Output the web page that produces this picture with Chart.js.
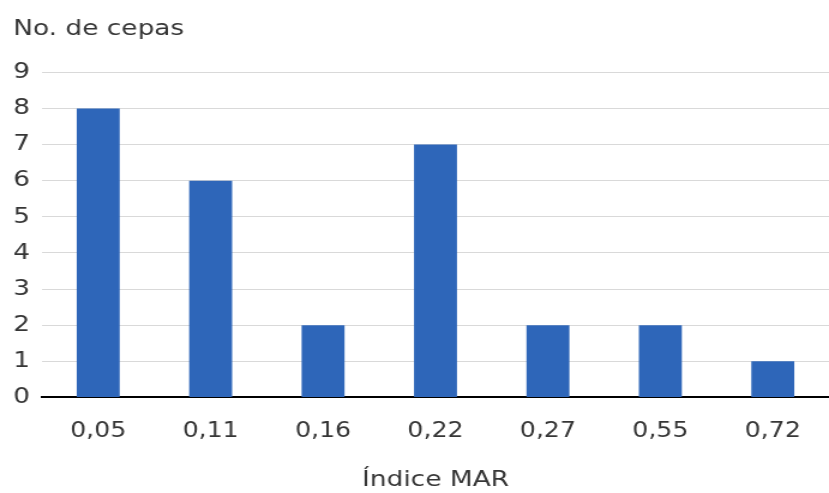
<!DOCTYPE html>
<html>
<head>
<meta charset="utf-8">
<script src="https://cdn.jsdelivr.net/npm/chart.js@4/dist/chart.umd.min.js"></script>
<style>
html,body{margin:0;padding:0;background:#fff;overflow:hidden;}
#wrap{width:691px;height:493px;position:relative;transform:scaleX(1.19971);transform-origin:0 0;}
</style>
</head>
<body>
<div id="wrap"><canvas id="c"></canvas></div>
<script>
const categories = ["0,05", "0,11", "0,16", "0,22", "0,27", "0,55", "0,72"];
const cepas = [8, 6, 2, 7, 2, 2, 1];
const yTitle = "No. de cepas";
const xTitle = "Índice MAR";

const FONT = "'DejaVu Sans', Verdana, sans-serif";
const TXT = '#363636';
new Chart(document.getElementById('c'), {
  type: 'bar',
  data: {
    labels: categories,
    datasets: [{
      data: cepas,
      backgroundColor: '#2e66b9',
      categoryPercentage: 1,
      barPercentage: 0.382
    }]
  },
  options: {
    responsive: true,
    maintainAspectRatio: false,
    animation: false,
    devicePixelRatio: 1,
    layout: { padding: { left: 11, right: 0, top: 0, bottom: 0 } },
    plugins: {
      legend: { display: false },
      tooltip: { enabled: false },
      title: {
        display: true,
        text: yTitle,
        align: 'start',
        color: TXT,
        font: { family: FONT, size: 22, weight: 'normal' },
        padding: { top: 16, bottom: 30 }
      }
    },
    scales: {
      x: {
        grid: { display: false, drawTicks: false },
        border: { color: '#000', width: 2 },
        ticks: { color: TXT, font: { family: FONT, size: 21 }, padding: 22, maxRotation: 0 },
        title: {
          display: true,
          text: xTitle,
          color: TXT,
          font: { family: FONT, size: 22 },
          padding: { top: 0, bottom: 0 }
        }
      },
      y: {
        min: 0, max: 9,
        afterFit: (s) => { s.width = 24; },
        grid: { color: '#d9d9d9', drawTicks: false, lineWidth: 1 },
        border: { display: false },
        ticks: { stepSize: 1, color: TXT, font: { family: FONT, size: 22 }, padding: 10 }
      }
    }
  }
});
</script>
</body>
</html>
